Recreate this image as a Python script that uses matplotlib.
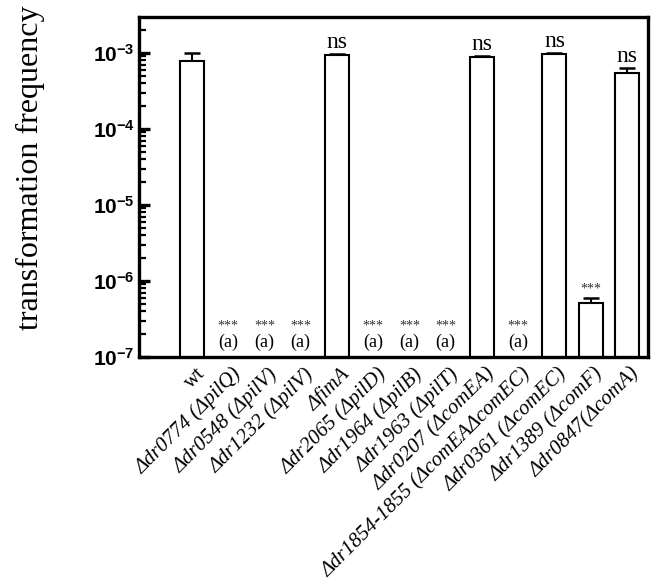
import numpy as np
import matplotlib
matplotlib.use("Agg")
import matplotlib.pyplot as plt
from matplotlib.ticker import LogLocator, NullFormatter, FixedLocator
import matplotlib.transforms as mtransforms

plt.rcParams['mathtext.fontset'] = 'custom'
plt.rcParams['mathtext.bf'] = 'Liberation Sans:bold'
plt.rcParams['mathtext.rm'] = 'Liberation Sans:bold'

# data (nan = below detection, marked "(a)")
strains = ["wt", "Δdr0774 (ΔpilQ)", "Δdr0548 (ΔpilV)", "Δdr1232 (ΔpilV)", "ΔfimA",
           "Δdr2065 (ΔpilD)", "Δdr1964 (ΔpilB)", "Δdr1963 (ΔpilT)", "Δdr0207 (ΔcomEA)",
           "Δdr1854-1855 (ΔcomEAΔcomEC)", "Δdr0361 (ΔcomEC)", "Δdr1389 (ΔcomF)",
           "Δdr0847(ΔcomA)"]
freq = [7.9e-4, np.nan, np.nan, np.nan, 9.4e-4, np.nan, np.nan, np.nan, 8.8e-4,
        np.nan, 9.6e-4, 5.2e-7, 5.5e-4]
err = [2.1e-4, 0, 0, 0, 2.5e-5, 0, 0, 0, 2.5e-5, 0, 2.5e-5, 0.8e-7, 0.8e-4]
sig = ["", "***", "***", "***", "ns", "***", "***", "***", "ns", "***", "ns", "***", "ns"]
yticks = [1e-7, 1e-6, 1e-5, 1e-4, 1e-3]
ytick_labels = [r'$\mathbf{10^{-7}}$', r'$\mathbf{10^{-6}}$', r'$\mathbf{10^{-5}}$',
                r'$\mathbf{10^{-4}}$', r'$\mathbf{10^{-3}}$']

fig = plt.figure(figsize=(6.53, 5.83), dpi=100)
ax = fig.add_axes([0.2129, 0.3877, 0.7794, 0.5831])

x = np.arange(len(strains))
vals = np.array(freq)
errs = np.array(err)
ax.bar(x, vals, width=0.66, color='white', edgecolor='black', linewidth=1.5, zorder=2)
ok = ~np.isnan(vals)
ax.errorbar(x[ok], vals[ok], yerr=[np.zeros(ok.sum()), errs[ok]], fmt='none',
            ecolor='black', elinewidth=1.5, capsize=6, capthick=1.8, zorder=1)

ax.set_yscale('log')
ax.set_ylim(1e-7, 2.96e-3)
ax.set_xlim(-1.46, 12.58)

ax.yaxis.set_major_locator(FixedLocator(yticks))
ax.set_yticklabels(ytick_labels, fontsize=15)
ax.yaxis.set_minor_locator(LogLocator(base=10, subs=np.arange(2, 10)))
ax.yaxis.set_minor_formatter(NullFormatter())
ax.tick_params(axis='y', which='major', direction='in', length=8, width=2.4, pad=3)
ax.tick_params(axis='y', which='minor', direction='in', length=5, width=1.6)

ax.set_xticks(x)
ax.set_xticklabels([])
ax.tick_params(axis='x', length=0)
trans = mtransforms.blended_transform_factory(ax.transData, ax.transAxes)
for i, name in enumerate(strains):
    style = 'normal' if name == 'wt' else 'italic'
    ax.text(i + 0.1, -0.022, name, transform=trans,
            rotation=45, rotation_mode='anchor', ha='right', va='top',
            family='Liberation Serif', style=style, fontsize=15)

for s in ax.spines.values():
    s.set_linewidth(2.4)

for i, (v, e, s) in enumerate(zip(freq, err, sig)):
    if not s:
        continue
    if np.isnan(v):
        ax.text(i, 0.092, "***", transform=trans, ha='center', va='center',
                family='Liberation Serif', fontsize=10, color='#333333')
        ax.text(i, 0.042, "(a)", transform=trans, ha='center', va='center',
                family='Liberation Serif', fontsize=13)
    elif s == 'ns':
        ax.text(i, (v + e) * 1.03, s, ha='center', va='bottom',
                family='Liberation Serif', fontsize=17)
    else:
        ax.text(i, (v + e) * 1.08, s, ha='center', va='bottom',
                family='Liberation Serif', fontsize=10, color='#333333')

fig.text(0.046, 0.712, "transformation frequency", rotation=90, ha='center', va='center',
         family='Liberation Serif', fontsize=23)

fig.savefig("out.png", dpi=100)
